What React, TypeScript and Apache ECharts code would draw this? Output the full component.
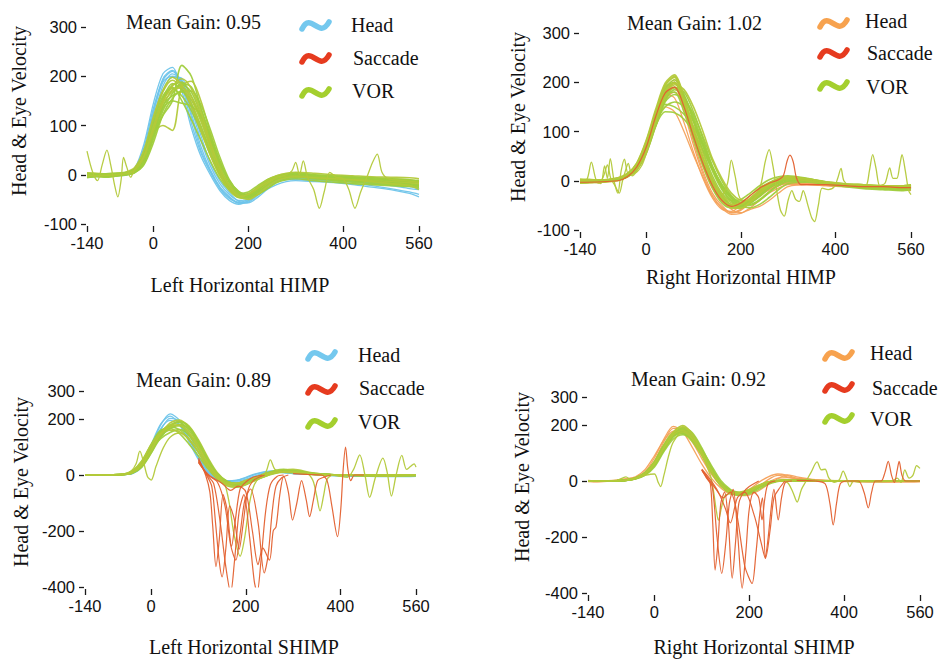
import React, { useEffect, useRef } from "react";
import * as echarts from "echarts";

// ---------- shared scales ----------
const timeGrid = [-140, -120, -100, -80, -60, -40, -20, 0, 20, 40, 60, 80, 100, 120, 140, 160, 180, 200, 220, 240, 260, 280, 300, 340, 380, 420, 460, 500, 540, 560];
const xTicks = [-140, 0, 200, 400, 560];
const yTicksHimp = [-100, 0, 100, 200, 300];
const yTicksShimp = [-400, -200, 0, 200, 300];

const panelTitles = ["Left Horizontal HIMP", "Right Horizontal HIMP", "Left Horizontal SHIMP", "Right Horizontal SHIMP"];
const meanGains = ["Mean Gain: 0.95", "Mean Gain: 1.02", "Mean Gain: 0.89", "Mean Gain: 0.92"];
const legendNames = ["Head", "Saccade", "VOR"];

// ---------- Panel 1: Left Horizontal HIMP ----------
const leftHimpHead = [
  [-3, -2, -2, -1, 0, 10, 55, 135, 192, 210, 180, 105, 45, 5, -28, -48, -56, -50, -36, -22, -12, -8, -6, -8, -10, -12, -15, -18, -22, -25],
  [-5, -4, -3, -2, 0, 6, 40, 115, 180, 205, 190, 125, 58, 10, -24, -44, -58, -56, -42, -26, -15, -10, -8, -10, -12, -14, -18, -22, -28, -30],
  [0, 1, 0, 1, 2, 12, 62, 145, 205, 218, 170, 95, 38, 0, -32, -52, -60, -52, -35, -18, -10, -5, -4, -6, -8, -10, -12, -15, -18, -20],
  [-2, -2, -1, 0, 1, 7, 45, 125, 188, 200, 192, 135, 70, 18, -18, -40, -52, -50, -37, -23, -14, -10, -10, -12, -15, -18, -22, -28, -35, -40],
  [-4, -3, -3, -2, -1, 5, 32, 105, 170, 198, 196, 145, 80, 25, -12, -36, -54, -57, -46, -30, -20, -14, -12, -14, -16, -20, -25, -30, -38, -45],
  [-3, -2, -2, -1, 0, 8, 48, 128, 195, 212, 185, 118, 50, 8, -26, -46, -56, -54, -40, -25, -14, -9, -8, -10, -12, -14, -17, -20, -24, -28],
];
const leftHimpVor = [
  [2, 0, -2, 0, 2, 8, 35, 92, 150, 182, 188, 160, 112, 58, 8, -28, -44, -42, -30, -15, -5, 0, 2, -2, -5, -8, -10, -12, -15, -15],
  [-5, -3, -4, -2, 0, 5, 25, 78, 138, 172, 182, 168, 122, 68, 16, -20, -40, -45, -35, -20, -8, -3, 0, -5, -8, -10, -12, -15, -18, -20],
  [0, 2, 0, 1, 3, 12, 45, 112, 168, 192, 175, 138, 95, 45, 0, -28, -42, -38, -25, -10, -2, 2, 3, 0, -3, -5, -6, -8, -10, -12],
  [-2, -1, 0, -1, 1, 6, 30, 85, 140, 160, 168, 152, 118, 72, 22, -14, -35, -40, -32, -18, -6, -2, 0, -3, -6, -8, -10, -12, -14, -16],
  [3, 2, 1, 2, 4, 10, 40, 82, 120, 150, 222, 200, 135, 72, 15, -25, -46, -48, -35, -18, -8, -4, -2, -6, -10, -12, -14, -16, -20, -22],
  [1, 0, 1, 2, 3, 10, 30, 85, 100, 90, 180, 190, 150, 85, 28, -15, -38, -42, -32, -18, -6, -2, -1, -4, -6, -8, -10, -12, -14, -15],
  [-4, -3, -2, -1, 0, 4, 20, 65, 122, 155, 170, 170, 142, 92, 36, -10, -35, -45, -40, -28, -15, -8, -5, -8, -10, -12, -15, -18, -20, -22],
  [1, 0, 1, 2, 3, 9, 38, 98, 152, 175, 160, 130, 88, 40, 0, -25, -38, -35, -22, -10, -3, 0, 1, -2, -4, -6, -8, -10, -12, -14],
  [-3, -2, -1, 0, 2, 7, 30, 88, 145, 168, 178, 158, 118, 62, 12, -22, -40, -42, -30, -16, -6, -2, -2, -4, -7, -9, -11, -13, -16, -18],
  [0, -1, 0, 1, 2, 8, 34, 95, 155, 185, 172, 145, 100, 50, 5, -26, -42, -44, -32, -14, -4, -1, 0, -3, -5, -7, -9, -11, -13, -15],
  [-6, -4, -5, -3, -1, 4, 22, 72, 130, 165, 185, 178, 135, 80, 25, -15, -38, -46, -40, -28, -16, -10, -8, -12, -15, -18, -20, -22, -24, -26],
  [4, 3, 2, 3, 5, 14, 50, 118, 172, 198, 182, 142, 92, 40, -2, -30, -44, -40, -26, -12, -2, 3, 5, 3, 0, -2, -4, -5, -6, -8],
  [-1, 0, -1, 0, 1, 6, 28, 80, 135, 150, 145, 140, 120, 78, 28, -12, -34, -42, -36, -22, -10, -6, -4, -8, -12, -15, -18, -20, -22, -24],
  [2, 1, 2, 3, 4, 11, 42, 105, 160, 178, 150, 112, 70, 28, -8, -32, -46, -44, -30, -14, -4, 1, 3, 0, -2, -4, -6, -8, -10, -12],
  [0, -2, -1, 0, 2, 9, 36, 92, 148, 180, 195, 175, 128, 66, 14, -24, -44, -50, -40, -24, -12, -6, -4, -6, -8, -10, -14, -18, -22, -30],
];
const leftHimpVorNoisy = [
  [[-140, 48], [-128, 5], [-118, -12], [-108, 20], [-98, 50], [-90, 20], [-82, -20], [-75, -45], [-68, -10], [-63, 35], [-56, 15], [-48, -5], [-40, 10], [-20, 38], [0, 98], [20, 152], [40, 172], [60, 178], [80, 152], [100, 108], [120, 55], [140, 5], [160, -30], [180, -45], [200, -40], [220, -28], [240, -15], [260, -5], [280, 0], [292, 8], [300, 25], [308, 0], [316, 28], [325, -5], [338, -30], [350, -68], [360, -35], [372, 5], [385, -5], [400, -8], [412, -30], [425, -68], [437, -35], [450, -5], [462, 25], [472, 42], [482, 5], [495, -8], [530, -12], [560, -15]],
];

// ---------- Panel 2: Right Horizontal HIMP ----------
const rightHimpHead = [
  [0, -2, -3, -1, 2, 8, 25, 62, 125, 182, 198, 150, 80, 20, -25, -50, -65, -60, -45, -30, -18, -10, -5, -5, -8, -10, -12, -14, -16, -18],
  [-3, -4, -2, 0, 3, 10, 30, 72, 132, 176, 168, 118, 58, 5, -35, -58, -62, -50, -35, -20, -10, -5, -2, -5, -8, -10, -10, -12, -14, -16],
  [2, 0, -1, 0, 4, 12, 35, 78, 138, 186, 205, 165, 95, 30, -15, -42, -55, -55, -42, -28, -15, -8, -4, -6, -8, -9, -11, -13, -15, -15],
  [-2, -3, -2, 0, 2, 9, 28, 62, 115, 165, 180, 152, 102, 45, 0, -35, -58, -65, -55, -40, -25, -15, -8, -8, -10, -12, -14, -16, -18, -20],
  [-4, -3, -4, -2, 1, 7, 22, 55, 110, 150, 140, 100, 52, 8, -32, -56, -68, -66, -58, -52, -40, -25, -12, -8, -10, -12, -12, -14, -16, -18],
  [-1, -2, -1, 0, 2, 8, 26, 66, 128, 178, 188, 140, 72, 14, -30, -54, -64, -58, -44, -30, -18, -10, -6, -6, -9, -11, -13, -15, -17, -19],
];
const rightHimpVor = [
  [0, -2, 0, 2, 5, 12, 30, 70, 130, 185, 205, 175, 120, 60, 10, -25, -40, -38, -25, -10, 2, 8, 10, 5, -3, -8, -10, -12, -12, -10],
  [-5, -3, -2, 0, 3, 10, 25, 60, 115, 165, 190, 180, 140, 85, 30, -10, -35, -45, -38, -22, -8, 0, 5, 2, -5, -10, -12, -14, -14, -12],
  [3, 2, 1, 3, 6, 15, 35, 80, 140, 195, 210, 160, 100, 45, 0, -30, -50, -52, -40, -20, -5, 5, 8, 3, -4, -8, -10, -10, -12, -10],
  [-2, 0, -1, 0, 2, 8, 22, 55, 110, 160, 175, 165, 135, 90, 40, 0, -30, -45, -48, -38, -22, -8, 0, 0, -6, -10, -12, -15, -15, -14],
  [1, 0, 2, 1, 4, 11, 32, 72, 125, 175, 180, 140, 90, 40, -5, -32, -48, -50, -42, -28, -12, -2, 4, 0, -5, -9, -12, -14, -15, -12],
  [-3, -2, -3, -1, 2, 9, 28, 65, 120, 170, 195, 185, 150, 100, 45, 5, -25, -40, -42, -32, -15, -3, 3, 2, -4, -8, -10, -12, -13, -12],
  [2, 1, 0, 1, 3, 10, 30, 68, 135, 190, 200, 150, 85, 30, -15, -45, -55, -52, -40, -25, -10, 0, 6, 4, -2, -6, -8, -10, -10, -8],
  [0, -1, -2, 0, 3, 9, 26, 62, 118, 150, 160, 150, 120, 75, 25, -15, -40, -50, -45, -30, -15, -5, 2, 0, -6, -10, -14, -16, -18, -15],
  [1, 2, 0, 2, 4, 12, 33, 75, 138, 192, 212, 168, 105, 48, 2, -28, -45, -48, -36, -18, -4, 4, 7, 3, -4, -8, -11, -12, -13, -11],
  [-1, 0, -1, 1, 3, 9, 27, 64, 112, 140, 138, 125, 98, 62, 22, -12, -36, -50, -50, -40, -24, -10, -2, -1, -6, -10, -13, -15, -16, -14],
  [-4, -3, -2, -1, 2, 8, 24, 58, 112, 162, 185, 170, 125, 70, 20, -18, -42, -52, -46, -30, -14, -2, 4, 2, -6, -12, -16, -18, -20, -18],
  [2, 3, 1, 2, 5, 13, 36, 82, 145, 198, 215, 170, 102, 42, -5, -35, -52, -55, -42, -24, -8, 4, 8, 4, -2, -6, -8, -10, -10, -8],
  [0, -1, 0, 1, 3, 10, 28, 66, 122, 172, 190, 172, 130, 78, 28, -8, -32, -44, -42, -30, -14, -4, 2, 1, -5, -9, -12, -14, -15, -13],
  [-2, -1, -2, 0, 2, 8, 26, 60, 118, 155, 150, 135, 110, 70, 28, -8, -34, -50, -55, -48, -34, -18, -6, -3, -7, -11, -14, -16, -18, -16],
  [3, 1, 2, 2, 5, 12, 32, 74, 132, 182, 200, 160, 98, 42, -8, -38, -55, -56, -44, -26, -10, 2, 6, 3, -3, -7, -9, -11, -11, -9],
];
const rightHimpVorNoisy = [
  [[-140, 0], [-126, 2], [-116, 38], [-106, 2], [-96, -6], [-88, 30], [-82, 5], [-76, 45], [-68, 0], [-60, -25], [-53, 20], [-46, 44], [-38, 15], [-25, 15], [-10, 30], [0, 55], [20, 120], [40, 175], [60, 200], [80, 165], [100, 110], [120, 55], [140, 5], [160, -28], [172, -5], [180, 42], [188, 10], [200, -38], [220, -40], [240, -25], [260, -8], [280, 0], [300, 4], [340, 0], [380, -6], [420, -10], [460, -12], [500, -12], [540, -14], [560, -12]],
  [[-140, -5], [-60, 0], [-40, 8], [-20, 25], [0, 62], [20, 125], [40, 178], [60, 198], [80, 160], [100, 100], [120, 45], [140, 0], [160, -35], [180, -50], [200, -48], [220, -35], [240, -15], [252, 40], [260, 63], [268, 30], [276, -20], [284, -60], [292, -72], [300, -40], [308, -20], [316, -38], [324, -42], [332, -20], [342, -50], [350, -75], [356, -83], [364, -50], [372, -15], [385, -18], [398, -12], [405, 5], [412, 25], [418, 0], [430, -10], [450, -12], [465, -10], [472, 20], [479, 53], [486, 25], [494, -10], [505, -5], [515, 26], [522, 5], [530, 5], [536, 30], [541, 53], [548, 20], [555, -20], [560, -28]],
  [[-140, -2], [-110, 0], [-100, -5], [-90, 10], [-82, 32], [-75, 5], [-66, -10], [-57, -25], [-50, 0], [-44, 20], [-38, 35], [-30, 10], [-20, 20], [0, 58], [20, 118], [40, 168], [60, 190], [80, 150], [100, 95], [120, 40], [140, -5], [160, -38], [180, -48], [200, -44], [220, -30], [240, -14], [260, -4], [280, 2], [300, 4], [340, 0], [380, -6], [420, -10], [460, -12], [500, -12], [540, -12], [560, -10]],
];
const rightHimpSaccade = [
  [[-140, -3], [-60, 0], [-40, 8], [-20, 28], [0, 68], [20, 130], [40, 178], [60, 190], [80, 150], [100, 90], [120, 35], [140, -10], [160, -40], [180, -52], [200, -45], [220, -30], [240, -15], [260, -5], [280, 2], [290, 10], [298, 40], [304, 52], [311, 38], [318, 5], [328, -8], [345, -8], [380, -8], [420, -10], [460, -12], [500, -12], [540, -14], [560, -14]],
];

// ---------- Panel 3: Left Horizontal SHIMP ----------
const leftShimpHead = [
  [0, 0, 0, 0, 1, 6, 32, 100, 178, 218, 195, 130, 65, 15, -12, -20, -18, -10, 2, 10, 14, 12, 8, 4, 0, -2, -3, -3, -2, -2],
  [0, 0, -1, 0, 2, 8, 38, 108, 182, 210, 180, 118, 55, 8, -16, -24, -20, -8, 4, 12, 15, 10, 5, 2, -2, -4, -5, -5, -4, -3],
  [-1, 0, 0, 1, 2, 5, 28, 88, 160, 202, 192, 145, 80, 24, -8, -20, -22, -15, -3, 8, 12, 10, 6, 3, 0, -3, -4, -5, -4, -4],
  [0, 1, 0, 0, 1, 6, 30, 92, 165, 195, 178, 128, 62, 12, -15, -26, -26, -18, -6, 5, 10, 8, 5, 2, -1, -3, -5, -6, -6, -5],
];
const leftShimpVor = [
  [0, 0, 0, 0, 2, 10, 40, 95, 150, 180, 188, 158, 110, 50, 0, -25, -32, -25, -10, 5, 15, 20, 15, 5, 2, 0, -2, -2, -1, -1],
  [-1, 0, 0, 1, 3, 12, 45, 105, 155, 172, 162, 128, 82, 30, -8, -30, -38, -30, -15, 0, 10, 15, 10, 3, 0, -1, -2, -3, -2, -2],
  [0, 0, 1, 0, 2, 8, 35, 85, 140, 175, 192, 175, 125, 62, 8, -22, -30, -25, -12, 2, 12, 18, 20, 8, 2, 0, -1, -2, -2, -1],
  [0, -1, 0, 0, 3, 15, 50, 110, 160, 165, 148, 110, 68, 22, -15, -38, -44, -35, -18, -5, 5, 10, 8, 2, -1, -2, -3, -3, -2, -2],
  [0, 0, 0, 1, 2, 9, 38, 90, 130, 152, 162, 145, 105, 48, 0, -24, -34, -30, -18, -5, 8, 14, 12, 4, 1, -1, -2, -2, -2, -1],
  [0, 0, 0, 0, 1, 7, 30, 80, 145, 186, 196, 168, 112, 48, 0, -26, -36, -32, -20, -5, 6, 12, 12, 5, 1, 0, -1, -1, -1, -1],
  [0, 0, 0, 1, 2, 11, 42, 100, 152, 176, 175, 140, 92, 36, -6, -28, -35, -28, -14, 2, 12, 16, 14, 5, 1, 0, -2, -3, -2, -2],
  [-1, 0, 0, 0, 2, 8, 34, 86, 138, 165, 180, 165, 118, 55, 4, -24, -34, -28, -14, 0, 10, 16, 16, 6, 2, 0, -1, -2, -2, -1],
  [0, 0, 1, 0, 3, 13, 48, 108, 150, 160, 155, 125, 80, 28, -12, -34, -42, -34, -16, -2, 8, 12, 10, 3, 0, -1, -2, -3, -2, -2],
  [0, 0, 0, 0, 1, 6, 28, 78, 135, 172, 190, 172, 120, 56, 4, -22, -30, -26, -14, 0, 10, 14, 14, 6, 2, 0, -1, -1, -1, -1],
];
const leftShimpVorNoisy = [
  [[-140, 0], [-60, 2], [-42, 15], [-32, 40], [-24, 85], [-16, 45], [-8, -5], [0, -18], [10, 30], [25, 95], [40, 135], [60, 150], [80, 130], [100, 82], [120, 28], [140, -12], [160, -32], [180, -30], [200, -18], [240, 5], [252, 54], [262, 20], [280, 12], [320, 8], [360, 2], [420, 0], [560, 0]],
  [[-140, 0], [-60, 2], [-40, 10], [-20, 38], [0, 92], [20, 148], [40, 178], [60, 180], [80, 148], [100, 95], [120, 40], [140, 0], [155, -30], [165, -100], [175, -210], [188, -290], [198, -220], [208, -100], [218, -35], [230, -10], [260, 10], [300, 12], [340, 5], [380, 0], [560, 0]],
  [[-140, 0], [-60, 1], [-40, 8], [-20, 35], [0, 88], [20, 145], [40, 172], [60, 178], [80, 152], [100, 100], [120, 40], [140, -5], [160, -28], [180, -30], [200, -20], [240, 0], [280, 12], [310, 8], [330, 5], [342, -20], [350, -75], [357, -128], [365, -70], [372, -15], [385, 0], [400, -5], [415, -8], [428, 20], [441, 72], [452, 0], [462, -80], [474, -10], [490, 60], [499, 10], [508, -75], [518, 0], [530, 70], [540, 20], [548, 30], [556, 40], [560, 28]],
];
const leftShimpSaccade = [
  [[100, 60], [115, 0], [124, -60], [130, -180], [137, -327], [144, -230], [152, -70], [160, -120], [170, -255], [178, -160], [188, -50], [200, -25], [215, -8], [235, 0]],
  [[100, 55], [117, 0], [128, -40], [136, -170], [144, -310], [150, -364], [158, -260], [166, -110], [176, -160], [186, -265], [194, -180], [204, -60], [216, -20], [240, 0]],
  [[100, 50], [118, 0], [132, -30], [146, -170], [158, -330], [168, -420], [176, -310], [186, -130], [196, -70], [208, -220], [218, -380], [224, -420], [232, -310], [242, -130], [252, -35], [266, -5], [280, 0]],
  [[100, 45], [120, 0], [140, -25], [156, -110], [168, -250], [179, -304], [188, -210], [198, -90], [210, -50], [226, -170], [239, -350], [247, -290], [256, -130], [264, -40], [276, -10], [290, 0]],
  [[100, 45], [122, 0], [150, -30], [168, -55], [184, -40], [200, -60], [214, -200], [226, -320], [236, -260], [250, -304], [258, -200], [264, -185], [272, -70], [280, -5], [290, -60], [299, -161], [308, -100], [318, -20], [328, -90], [335, -149], [343, -90], [352, -20], [365, -8], [380, 0]],
  [[300, 5], [330, 2], [360, 0], [372, -20], [382, -110], [394, -220], [401, -120], [406, 20], [411, 100], [416, 20], [422, -20], [430, 0], [450, 0]],
];

// ---------- Panel 4: Right Horizontal SHIMP ----------
const rightShimpHead = [
  [0, -2, 0, 2, 5, 12, 28, 70, 140, 188, 185, 140, 80, 25, -15, -40, -50, -40, -20, 5, 20, 15, 8, 3, 0, -1, -2, -2, -1, -1],
  [-2, -3, -1, 0, 4, 10, 32, 82, 150, 195, 175, 120, 60, 10, -25, -45, -45, -30, -5, 15, 25, 20, 10, 4, 0, -2, -3, -3, -2, -2],
  [2, 0, 1, 3, 8, 15, 40, 90, 145, 178, 180, 150, 95, 35, -10, -38, -48, -42, -25, -5, 10, 12, 8, 2, 0, -1, -2, -2, -2, -1],
  [-1, -1, 0, 1, 3, 8, 25, 65, 125, 170, 190, 160, 105, 45, -5, -35, -52, -50, -35, -12, 8, 22, 15, 5, 1, 0, -2, -3, -3, -2],
];
const rightShimpVor = [
  [0, 0, 0, 1, 3, 10, 25, 60, 120, 170, 185, 160, 110, 45, -10, -35, -42, -32, -15, -3, 2, 3, 2, 1, 0, 0, -1, -1, 0, 0],
  [-1, 0, 0, 1, 2, 8, 22, 55, 110, 160, 178, 155, 100, 38, -15, -40, -48, -38, -20, -5, 1, 2, 1, 0, -1, -1, -1, -1, -1, -1],
  [0, 1, 0, 0, 3, 12, 30, 70, 130, 172, 170, 140, 90, 30, -18, -42, -46, -35, -18, -6, 0, 2, 2, 1, 0, 0, 0, -1, 0, 0],
  [1, 0, 0, 1, 4, 10, 28, 62, 118, 160, 192, 172, 118, 50, -5, -32, -40, -34, -18, -4, 2, 4, 3, 1, 0, -1, -1, -1, -1, -1],
  [0, 0, -1, 0, 2, 7, 20, 50, 105, 150, 165, 148, 104, 44, -8, -36, -44, -38, -22, -8, 0, 2, 1, 0, -1, -1, -2, -1, -1, -1],
  [0, 0, 0, 1, 3, 9, 26, 65, 125, 175, 198, 168, 108, 42, -12, -38, -46, -36, -20, -6, 1, 3, 2, 1, 0, 0, -1, -1, 0, 0],
  [-1, -1, 0, 0, 2, 8, 24, 58, 112, 158, 170, 152, 112, 56, 2, -30, -50, -46, -30, -12, -2, 2, 2, 0, -1, -1, -1, -1, -1, -1],
  [0, 0, 0, 1, 3, 11, 30, 68, 128, 168, 175, 145, 95, 36, -16, -44, -52, -42, -24, -8, 0, 2, 2, 1, 0, 0, 0, 0, 0, 0],
  [0, 0, 0, 1, 3, 10, 26, 62, 122, 168, 182, 158, 106, 42, -12, -38, -46, -36, -18, -4, 2, 3, 2, 1, 0, 0, -1, -1, 0, 0],
  [-1, 0, 0, 0, 2, 9, 24, 56, 114, 162, 188, 165, 110, 46, -8, -34, -44, -38, -20, -6, 0, 2, 1, 0, -1, -1, -1, -1, -1, -1],
  [0, 1, 0, 1, 3, 11, 28, 64, 124, 165, 172, 150, 102, 40, -14, -40, -50, -40, -22, -7, 0, 2, 2, 1, 0, 0, 0, 0, 0, 0],
  [0, 0, 0, 1, 3, 10, 27, 63, 120, 172, 194, 165, 104, 40, -12, -38, -45, -36, -19, -5, 1, 3, 2, 1, 0, 0, -1, -1, 0, 0],
];
const rightShimpVorNoisy = [
  [[-140, 0], [-80, 2], [-60, 15], [-50, 5], [-40, 10], [-20, 20], [0, 25], [8, -5], [13, -20], [20, 20], [30, 90], [40, 140], [60, 175], [80, 150], [100, 100], [120, 35], [140, -15], [160, -40], [180, -45], [200, -35], [220, -18], [240, -5], [260, 0], [300, 2], [560, 0]],
  [[-140, 0], [-60, 2], [-40, 10], [-20, 24], [0, 60], [20, 118], [40, 165], [60, 180], [80, 150], [100, 95], [118, 20], [125, -40], [130, -100], [135, -140], [142, -90], [150, -50], [165, -45], [180, -40], [200, -30], [220, -15], [240, -3], [260, 0], [280, -5], [292, -40], [301, -75], [310, -30], [320, 0], [330, 30], [343, 68], [352, 40], [360, 42], [368, 10], [380, -5], [390, 5], [398, 35], [405, 10], [412, -20], [420, 0], [432, -5], [440, 0], [500, 0], [512, 10], [520, -5], [528, 40], [537, 10], [545, 20], [553, 55], [560, 45]],
];
const rightShimpSaccade = [
  [[100, 40], [110, 10], [118, -10], [123, -150], [128, -318], [134, -220], [140, -80], [148, -40], [156, -150], [164, -347], [171, -220], [178, -80], [188, -40], [200, -20], [220, 0]],
  [[100, 38], [112, 8], [122, -20], [132, -200], [142, -330], [150, -230], [158, -80], [166, -30], [176, -200], [185, -383], [193, -250], [200, -100], [210, -40], [220, -60], [227, -139], [233, -60], [240, -10], [255, 0]],
  [[100, 40], [115, 5], [130, -30], [145, -60], [160, -40], [172, -100], [190, -300], [198, -340], [206, -366], [214, -260], [222, -120], [228, -60], [234, -276], [240, -200], [246, -100], [252, -30], [261, -139], [268, -60], [276, -5], [290, 0]],
  [[100, 42], [118, 5], [135, -40], [150, -100], [160, -150], [175, -60], [190, -40], [210, -120], [225, -220], [234, -276], [244, -175], [252, -60], [262, -30], [275, 0]],
  [[300, 2], [340, 0], [360, -10], [370, -80], [377, -157], [384, -80], [392, -10], [405, 0], [430, 0], [442, -40], [451, -96], [458, -40], [466, 0], [478, 0], [486, 30], [493, 70], [500, 20], [506, -5], [512, 40], [516, 70], [522, 20], [530, 0], [560, 0]],
];

// ---------- styling ----------
const BLUE = "#6ec4ea";
const ORANGE = "#f4a15a";
const GREEN = "#a0cd3c";
const GREEN2 = "#b3c93a";
const RED_LINE = "#e3602f";
const LEG_RED = "#e63b1f";
const LEG_GREEN = "#a4cf2e";
const LEG_BLUE = "#74c8ee";
const LEG_ORANGE = "#f7a24e";
const SERIF = '"Liberation Serif", "DejaVu Serif", serif';
const SANS = '"Liberation Sans", Arial, sans-serif';

const panels = [
  { grid: { left: 87, top: 27, width: 332, height: 197 }, yMin: -100, yMax: 300, yTicks: yTicksHimp, headColor: BLUE, legHead: LEG_BLUE,
    gain: [126, 22], icons: [302, [25, 58, 92]], labels: [[351, 25], [353, 58], [352, 91]], ylab: [19, 111], xlab: [240, 285],
    head: leftHimpHead, vor: leftHimpVor, noisy: leftHimpVorNoisy, sac: [] as number[][][] },
  { grid: { left: 580, top: 33, width: 331, height: 197 }, yMin: -100, yMax: 300, yTicks: yTicksHimp, headColor: ORANGE, legHead: LEG_ORANGE,
    gain: [627, 23], icons: [820, [23, 53, 85]], labels: [[865, 21], [867, 53], [866, 87]], ylab: [518, 117], xlab: [741, 277],
    head: rightHimpHead, vor: rightHimpVor, noisy: rightHimpVorNoisy, sac: rightHimpSaccade },
  { grid: { left: 85, top: 391, width: 331, height: 196 }, yMin: -400, yMax: 300, yTicks: yTicksShimp, headColor: BLUE, legHead: LEG_BLUE,
    gain: [136, 380], icons: [308, [355, 389, 423]], labels: [[358, 355], [359, 388], [358, 422]], ylab: [21, 482], xlab: [244, 647],
    head: leftShimpHead, vor: leftShimpVor, noisy: leftShimpVorNoisy, sac: leftShimpSaccade },
  { grid: { left: 588, top: 397, width: 332, height: 196 }, yMin: -400, yMax: 300, yTicks: yTicksShimp, headColor: ORANGE, legHead: LEG_ORANGE,
    gain: [631, 379], icons: [825, [355, 387, 418]], labels: [[870, 353], [872, 388], [870, 419]], ylab: [522, 477], xlab: [754, 647],
    head: rightShimpHead, vor: rightShimpVor, noisy: rightShimpVorNoisy, sac: rightShimpSaccade },
];

const onGrid = (ys: number[]) => ys.map((y, i) => [timeGrid[i], y]);

function line(p: number, data: number[][], color: string, width: number, opacity = 0.95) {
  return {
    type: "line", xAxisIndex: p, yAxisIndex: p, data, smooth: 0.3, showSymbol: false, symbol: "none",
    silent: true, animation: false, clip: true,
    lineStyle: { color, width, opacity },
  };
}

function txt(text: string, x: number, y: number, align: string, size: number, family: string, rotation = 0) {
  return {
    type: "text", x, y, rotation, silent: true,
    style: { text, fontSize: size, fontFamily: family, fill: "#111", align, verticalAlign: "middle", textAlign: align, textVerticalAlign: "middle" },
  };
}

function wave(x: number, cy: number, color: string) {
  return {
    type: "bezierCurve", silent: true,
    shape: { x1: x, y1: cy + 4, x2: x + 27, y2: cy - 3, cpx1: x + 9, cpy1: cy - 14, cpx2: x + 17, cpy2: cy + 15 },
    style: { stroke: color, lineWidth: 5.5, lineCap: "round", fill: null },
  };
}

function buildOption() {
  const grids: any[] = [];
  const xAxes: any[] = [];
  const yAxes: any[] = [];
  const series: any[] = [];
  const graphic: any[] = [];
  panels.forEach((pn, p) => {
    grids.push({ ...pn.grid, containLabel: false });
    xAxes.push({
      type: "value", gridIndex: p, min: -140, max: 560, offset: 2,
      axisLine: { show: false, onZero: false },
      axisTick: { show: true, length: 6, customValues: xTicks, lineStyle: { color: "#1a1a1a", width: 1.3 } },
      axisLabel: { customValues: xTicks, margin: 8, fontSize: 16.5, fontFamily: SANS, color: "#111", showMinLabel: true, showMaxLabel: true },
      splitLine: { show: false },
    });
    yAxes.push({
      type: "value", gridIndex: p, min: pn.yMin, max: pn.yMax, offset: 1,
      axisLine: { show: false, onZero: false },
      axisTick: { show: true, length: 5, customValues: pn.yTicks, lineStyle: { color: "#1a1a1a", width: 1.3 } },
      axisLabel: { customValues: pn.yTicks, margin: 9, fontSize: 16.5, fontFamily: SANS, color: "#111", showMinLabel: true, showMaxLabel: true },
      splitLine: { show: false },
    });
    pn.head.forEach((ys) => series.push(line(p, onGrid(ys), pn.headColor, 1.3)));
    pn.vor.forEach((ys, i) => series.push(line(p, onGrid(ys), i % 3 === 2 ? GREEN2 : GREEN, 1.6)));
    pn.noisy.forEach((d) => series.push(line(p, d, GREEN2, 1.3)));
    pn.sac.forEach((d) => series.push(line(p, d, RED_LINE, 1.2)));

    graphic.push(txt(meanGains[p], pn.gain[0], pn.gain[1], "left", 20, SERIF));
    const iconColors = [pn.legHead, LEG_RED, LEG_GREEN];
    pn.icons[1].forEach((cy: number, k: number) => graphic.push(wave(pn.icons[0] as number, cy, iconColors[k])));
    pn.labels.forEach((pos, k) => graphic.push(txt(legendNames[k], pos[0], pos[1], "left", 20, SERIF)));
    graphic.push(txt("Head & Eye Velocity", pn.ylab[0], pn.ylab[1], "center", 20, SERIF, Math.PI / 2));
    graphic.push(txt(panelTitles[p], pn.xlab[0], pn.xlab[1], "center", 20, SERIF));
  });
  return { animation: false, backgroundColor: "#ffffff", grid: grids, xAxis: xAxes, yAxis: yAxes, series, graphic };
}

export default function App() {
  const ref = useRef<HTMLDivElement>(null);
  useEffect(() => {
    if (!ref.current) return;
    const chart = echarts.init(ref.current, null, { renderer: "svg", width: 939, height: 659 });
    chart.setOption(buildOption() as any);
    return () => chart.dispose();
  }, []);
  return <div ref={ref} style={{ position: "absolute", left: 0, top: 0, width: 939, height: 659, background: "#fff" }} />;
}
